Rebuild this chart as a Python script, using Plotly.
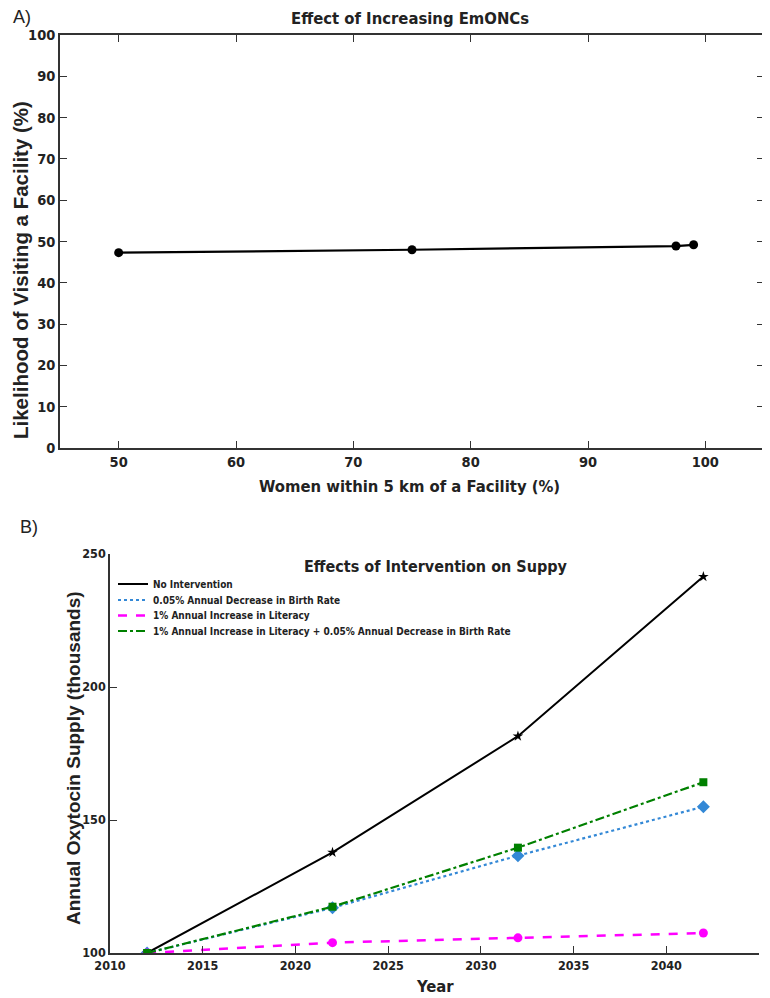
import plotly.graph_objects as go

# ---- Panel A data ----
coverage_pct = [50, 75, 97.5, 99]
likelihood_pct = [47.3, 48.0, 48.9, 49.2]

# ---- Panel B data ----
years = [2012, 2022, 2032, 2042]
no_intervention = [100, 137.8, 181.5, 241.5]
birth_rate_decrease = [100, 117.0, 136.6, 155.0]
literacy_increase = [100, 103.9, 105.7, 107.5]
literacy_and_birth = [100, 117.4, 139.6, 164.2]

series_names = [
    "No Intervention",
    "0.05% Annual Decrease in Birth Rate",
    "1% Annual Increase in Literacy",
    "1% Annual Increase in Literacy + 0.05% Annual Decrease in Birth Rate",
]

# page offset of the plot div (body margin)
OFF = 8
PAGE_W, PAGE_H = 770, 998
W, H = PAGE_W - OFF, PAGE_H - OFF
COND = "DejaVu Sans Condensed, Liberation Sans Narrow, Arial Narrow, sans-serif"
SANS = "Liberation Sans, Arial, sans-serif"

def px(x):
    return (x - OFF) / W

def py(y):
    return (PAGE_H - y) / H

fig = go.Figure()

# Panel A
fig.add_trace(go.Scatter(
    x=coverage_pct, y=likelihood_pct, mode="lines+markers",
    line=dict(color="black", width=2.2),
    marker=dict(color="black", size=9, symbol="circle"),
    xaxis="x", yaxis="y", showlegend=False))

# Panel B
styles = [
    dict(color="black", dash="solid", symbol="star", size=8, width=2),
    dict(color="#3388d6", dash="dot", symbol="diamond", size=10, width=2.2),
    dict(color="#ff00ff", dash="dash", symbol="circle", size=9, width=2.5),
    dict(color="#008000", dash="dashdot", symbol="square", size=8, width=2.2),
]
legend_ids = ["legend", "legend2", "legend3", "legend4"]
legend_rows = [584, 600, 615.5, 631]
series = [no_intervention, birth_rate_decrease, literacy_increase, literacy_and_birth]
for name, vals, st, lid in zip(series_names, series, styles, legend_ids):
    fig.add_trace(go.Scatter(
        x=years, y=vals, mode="lines+markers",
        line=dict(color=st["color"], dash=st["dash"], width=st["width"]),
        marker=dict(color=st["color"], symbol=st["symbol"], size=st["size"]),
        xaxis="x2", yaxis="y2", showlegend=False))
    fig.add_trace(go.Scatter(
        x=[None], y=[None], mode="lines", name=name, legend=lid,
        line=dict(color=st["color"], dash=st["dash"], width=st["width"]),
        xaxis="x2", yaxis="y2", showlegend=True))

def common(size):
    return dict(showgrid=False, zeroline=False, automargin=False, tickwidth=1.2,
                tickcolor="#333", showline=True, linecolor="#333", linewidth=1.5,
                tickfont=dict(family=COND, size=size, color="#222", weight="bold"),
                ticklen=7)

fig.update_layout(
    width=W, height=H,
    margin=dict(l=0, r=0, t=0, b=0),
    paper_bgcolor="white", plot_bgcolor="white",
    xaxis=dict(domain=[px(60), px(764)], anchor="y", range=[45, 105],
               tickvals=[50, 60, 70, 80, 90, 100], ticks="inside",
               mirror="ticks", **common(14.5)),
    yaxis=dict(domain=[py(448), py(35)], anchor="x", range=[0, 100],
               tickvals=list(range(0, 101, 10)), ticks="inside",
               mirror="ticks", **common(14.5)),
    xaxis2=dict(domain=[px(110), px(759)], anchor="y2", range=[2010, 2045],
                tickvals=list(range(2010, 2046, 5)), ticks="inside", **common(12.5)),
    yaxis2=dict(domain=[py(953), py(554)], anchor="x2", range=[100, 250],
                tickvals=[100, 150, 200, 250], ticks="inside", **common(12.5)),
    showlegend=True,
)
for lid, row in zip(legend_ids, legend_rows):
    fig.update_layout({lid: dict(
        x=px(113), y=py(row), xanchor="left", yanchor="middle",
        bgcolor="rgba(0,0,0,0)", borderwidth=0,
        font=dict(family=COND, size=10, color="#222", weight="bold"),
        itemwidth=30)})

ann = [
    dict(text="A)", x=px(22), y=py(17), font=dict(family=SANS, size=18, color="#222")),
    dict(text="Effect of Increasing EmONCs", x=px(410), y=py(19),
         font=dict(family=COND, size=16.5, color="#222", weight="bold")),
    dict(text="Women within 5 km of a Facility (%)", x=px(410), y=py(486),
         font=dict(family=COND, size=16.5, color="#222", weight="bold")),
    dict(text="Likelihood of Visiting a Facility (%)", x=px(20), y=py(270), textangle=-90,
         font=dict(family=SANS, size=20.5, color="#222", weight="bold")),
    dict(text="B)", x=px(29), y=py(527), font=dict(family=SANS, size=18, color="#222")),
    dict(text="Effects of Intervention on Suppy", x=px(436), y=py(566),
         font=dict(family=COND, size=16, color="#222", weight="bold")),
    dict(text="Annual Oxytocin Supply (thousands)", x=px(73), y=py(758), textangle=-90,
         font=dict(family=SANS, size=19, color="#222", weight="bold")),
    dict(text="Year", x=px(435), y=py(986),
         font=dict(family=COND, size=16.5, color="#222", weight="bold")),
]
for a in ann:
    a.update(xref="paper", yref="paper", showarrow=False, xanchor="center", yanchor="middle")
fig.update_layout(annotations=ann)

fig.write_html("out.html")
